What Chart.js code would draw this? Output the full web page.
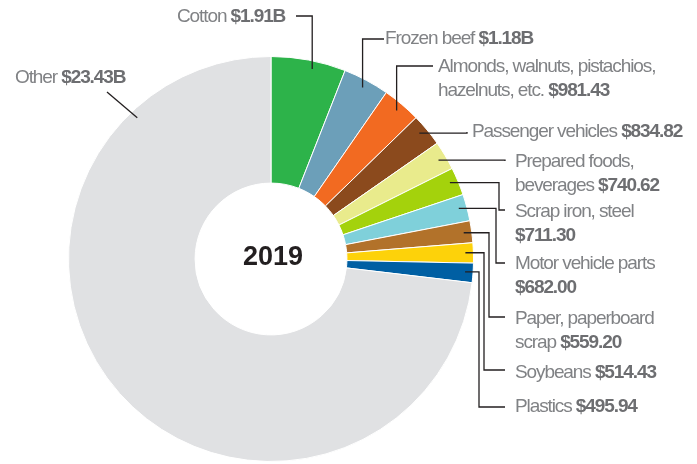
<!DOCTYPE html>
<html>
<head>
<meta charset="utf-8">
<script src="https://cdn.jsdelivr.net/npm/chart.js@4.4.1/dist/chart.umd.min.js"></script>
<style>
html,body{margin:0;padding:0;background:#fff;}
#wrap{width:697px;height:464px;position:relative;}
</style>
</head>
<body>
<div id="wrap"><canvas id="c" width="697" height="464"></canvas></div>
<script>
// ---- data (values in millions of US$) ----
const categories = [
  'Cotton',
  'Frozen beef',
  'Almonds, walnuts, pistachios,\nhazelnuts, etc.',
  'Passenger vehicles',
  'Prepared foods,\nbeverages',
  'Scrap iron, steel\n',
  'Motor vehicle parts\n',
  'Paper, paperboard\nscrap',
  'Soybeans',
  'Plastics',
  'Other'
];
const values = [1910, 1180, 981.43, 834.82, 740.62, 711.30, 682.00, 559.20, 514.43, 495.94, 23430];
const valueLabels = ['$1.91B', '$1.18B', '$981.43', '$834.82', '$740.62', '$711.30', '$682.00', '$559.20', '$514.43', '$495.94', '$23.43B'];
const centerTitle = '2019';

// ---- styles / layout ----
const colors = ['#2db34a', '#6c9fb9', '#f26a21', '#8b4a1d', '#e9eb8c', '#a4d20c', '#7fd0da', '#b2722a', '#fdd20a', '#005fa3', '#e0e1e3'];
// leader/label layout: anchor fraction along arc, path type, label pos
const layout = [
  {frac:0.57, type:'up',    y:16,  x2:296, tx:177, ty:17},
  {frac:0.50, type:'up',    y:39,  x2:384, tx:385, ty:39},
  {frac:0.50, type:'up',    y:66,  x2:433, tx:438, ty:67},
  {frac:0.42, type:'right', ex:467, y:132, x2:467, tx:472, ty:132},
  {frac:0.52, type:'right', ex:505, y:161, x2:505, tx:515, ty:162},
  {frac:0.43, type:'right', ex:499, y:210, x2:505, tx:515, ty:212},
  {frac:0.45, type:'right', ex:496, y:263, x2:505, tx:515, ty:264},
  {frac:0.50, type:'right', ex:489, y:317, x2:505, tx:515, ty:319},
  {frac:0.48, type:'right', ex:484, y:370, x2:505, tx:515, ty:373},
  {frac:0.47, type:'right', ex:479, y:407, x2:505, tx:515, ty:407},
  {frac:0.835, type:'diag', x2:107, y:92, tx:15, ty:78}
];
const lineH = 23.5;
const FONT_SIZE = 19;

const labelPlugin = {
  id: 'leaderLabels',
  afterDatasetsDraw(chart) {
    const ctx = chart.ctx;
    const meta = chart.getDatasetMeta(0);
    ctx.save();
    ctx.letterSpacing = '-1.1px';
    meta.data.forEach((arc, i) => {
      const L = layout[i];
      const p = arc.getProps(['x','y','startAngle','endAngle','outerRadius'], true);
      const a = p.startAngle + L.frac * (p.endAngle - p.startAngle);
      const r = p.outerRadius - 8;
      const ax = p.x + Math.cos(a) * r;
      const ay = p.y + Math.sin(a) * r;
      ctx.strokeStyle = '#231f20';
      ctx.lineWidth = 1.3;
      ctx.beginPath();
      ctx.moveTo(ax, ay);
      if (L.type === 'up') {
        ctx.lineTo(ax, L.y);
        ctx.lineTo(L.x2, L.y);
      } else if (L.type === 'right') {
        ctx.lineTo(L.ex, ay);
        ctx.lineTo(L.ex, L.y);
        ctx.lineTo(L.x2, L.y);
      } else {
        ctx.lineTo(L.x2, L.y);
      }
      ctx.stroke();

      // text
      const lines = categories[i].split('\n');
      ctx.textBaseline = 'middle';
      ctx.textAlign = 'left';
      lines.forEach((ln, k) => {
        const yy = L.ty + k * lineH;
        let x = L.tx;
        if (ln.length) {
          ctx.font = FONT_SIZE + 'px "Liberation Sans", Arial, sans-serif';
          ctx.fillStyle = '#808285';
          ctx.fillText(ln, x, yy);
          x += ctx.measureText(ln).width;
        }
        if (k === lines.length - 1) {
          if (ln.length) {
            ctx.font = FONT_SIZE + 'px "Liberation Sans", Arial, sans-serif';
            x += ctx.measureText(' ').width;
          }
          ctx.font = 'bold ' + FONT_SIZE + 'px "Liberation Sans", Arial, sans-serif';
          ctx.fillStyle = '#6d6e71';
          ctx.fillText(valueLabels[i], x, yy);
        }
      });
    });
    // center title
    const a0 = meta.data[0];
    ctx.letterSpacing = '0px';
    ctx.font = 'bold 27px "Liberation Sans", Arial, sans-serif';
    ctx.fillStyle = '#231f20';
    ctx.textAlign = 'center';
    ctx.textBaseline = 'middle';
    ctx.fillText(centerTitle, a0.x + 2, a0.y - 1);
    ctx.restore();
  }
};

new Chart(document.getElementById('c'), {
  type: 'doughnut',
  data: {
    labels: categories,
    datasets: [{
      data: values,
      backgroundColor: colors,
      borderColor: '#ffffff',
      borderWidth: 1
    }]
  },
  options: {
    responsive: false,
    animation: false,
    cutout: '37.5%',
    layout: { padding: { left: 68, right: 223, top: 56, bottom: 2 } },
    plugins: {
      legend: { display: false },
      tooltip: { enabled: false }
    }
  },
  plugins: [labelPlugin]
});
</script>
</body>
</html>
